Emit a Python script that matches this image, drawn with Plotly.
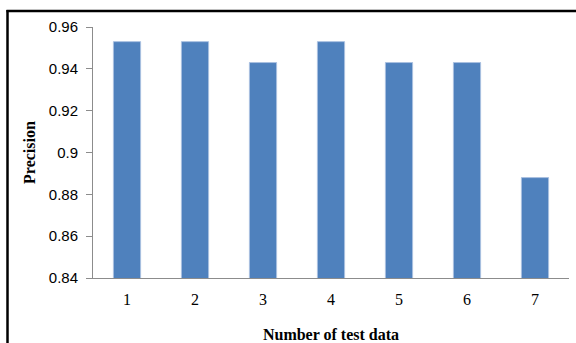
import plotly.graph_objects as go

# Precision measured for each test data set
test_sets = ["1", "2", "3", "4", "5", "6", "7"]
precision = [0.953, 0.953, 0.943, 0.953, 0.943, 0.943, 0.888]
y_ticks = [0.84, 0.86, 0.88, 0.9, 0.92, 0.94, 0.96]
y_tick_labels = ["0.84", "0.86", "0.88", "0.9", "0.92", "0.94", "0.96"]

W, H = 576, 343
L, R, T, B = 93, 7, 27, 65
pw, ph = W - L - R, H - T - B


def px_x(p):
    return (p - L) / pw


def px_y(p):
    return (H - B - p) / ph


fig = go.Figure(
    go.Bar(
        x=test_sets,
        y=precision,
        marker=dict(color="#4F81BD", line=dict(color="#a9c0e0", width=1)),
    )
)

serif = "Liberation Serif, Times New Roman, serif"
sans = "Liberation Sans, Arial, sans-serif"

fig.update_layout(
    width=W,
    height=H,
    margin=dict(l=L, r=R, t=T, b=B),
    paper_bgcolor="white",
    plot_bgcolor="white",
    bargap=0.6,
    showlegend=False,
    font=dict(family=serif, size=15, color="black"),
    xaxis=dict(
        type="category",
        automargin=False,
        showgrid=False,
        showline=True,
        linecolor="#8c8c8c",
        linewidth=1,
        ticks="outside",
        ticklen=7,
        tickcolor="rgba(0,0,0,0)",
        tickfont=dict(family=serif, size=16),
        title=dict(
            text="<b>Number of test data</b>",
            font=dict(family=serif, size=16),
            standoff=21,
        ),
    ),
    yaxis=dict(
        range=[0.84, 0.96],
        automargin=False,
        tickvals=y_ticks,
        ticktext=y_tick_labels,
        showgrid=False,
        zeroline=False,
        showline=True,
        linecolor="#8c8c8c",
        linewidth=1,
        ticks="outside",
        ticklen=6,
        tickcolor="#8c8c8c",
        ticklabelstandoff=5,
        tickfont=dict(family=sans, size=15),
        title=dict(
            text="<b>Precision</b>",
            font=dict(family=serif, size=16),
            standoff=9,
        ),
    ),
    shapes=[
        # frame drawn around the chart on the left and top sides
        dict(type="line", xref="paper", yref="paper",
             x0=px_x(7.5), x1=px_x(7.5), y0=px_y(10), y1=px_y(350),
             line=dict(color="black", width=2.5)),
        dict(type="line", xref="paper", yref="paper",
             x0=px_x(6.5), x1=px_x(580), y0=px_y(11), y1=px_y(11),
             line=dict(color="black", width=2.5)),
    ],
)

fig.write_html("out.html")
